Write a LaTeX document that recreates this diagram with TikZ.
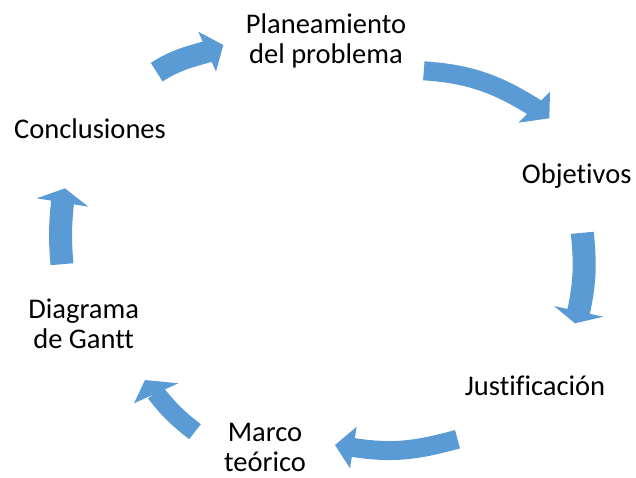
\documentclass[tikz,border=0pt]{standalone}
\usepackage{fontspec}
\setmainfont{Carlito}[Ligatures=NoCommon]
\definecolor{arrowblue}{RGB}{91,155,213}
\begin{document}
\begin{tikzpicture}[x=1pt,y=1pt,
  lbl/.style={inner sep=0pt, align=center, anchor=base, font=\fontsize{28.5}{30}\selectfont},
  shaft/.style={draw=arrowblue, line cap=butt, shorten >=-2pt},
  head/.style={fill=arrowblue}]
\useasboundingbox (0,0) rectangle (636,-477);
% labels (anchor = baseline of the last line)
\node[lbl] (plan) at (326,-63.3) {Planeamiento\\del problema};
\node[lbl] (obj) at (576.7,-183.3) {Objetivos};
\node[lbl] (just) at (535,-395) {Justificación};
\node[lbl] (marco) at (265,-471.7) {Marco\\teórico};
\node[lbl] (gantt) at (83.7,-348.3) {Diagrama\\de Gantt};
\node[lbl] (concl) at (90,-138.3) {Conclusiones};
% arrow 1: Conclusiones -> Planeamiento
\coordinate (t1) at (156.7,-72.2); \coordinate (e1) at (207.2,-51.7);
\draw[shaft, line width=22pt] (t1) to[out=33,in=196] (e1);
\fill[head] (198.3,-31.7) -- (223.3,-45) -- (216,-71.7) -- cycle;
% arrow 2: Planeamiento -> Objetivos
\coordinate (t2) at (423.8,-70.8); \coordinate (e2) at (534.2,-107.2);
\draw[shaft, line width=19pt] (t2) to[out=-4,in=148] (e2);
\fill[head] (550,-91.7) -- (549.3,-118.3) -- (518.3,-122.7) -- cycle;
% arrow 3: Objetivos -> Justificacion
\coordinate (t3) at (582.3,-232.8); \coordinate (e3) at (578.7,-311.3);
\draw[shaft, line width=23pt] (t3) to[out=-84.4,in=77.7] (e3);
\fill[head] (554,-306) -- (575,-323.3) -- (603.3,-316.7) -- cycle;
% arrow 4: Justificacion -> Marco
\coordinate (t4) at (457.5,-439.2); \coordinate (e4) at (353.3,-447.5);
\draw[shaft, line width=19pt] (t4) to[out=195.3,in=350.8] (e4);
\fill[head] (356.7,-426.7) -- (335,-445) -- (350,-468.3) -- cycle;
% arrow 5: Marco -> Gantt
\coordinate (t5) at (195,-431.7); \coordinate (e5) at (156.7,-394.2);
\draw[shaft, line width=19pt] (t5) to[out=142,in=308] (e5);
\fill[head] (134,-403.3) -- (145,-380) -- (178.3,-383.3) -- cycle;
% arrow 6: Gantt -> Conclusiones
\coordinate (t6) at (62,-264.2); \coordinate (e6) at (62.5,-202.5);
\draw[shaft, line width=23pt] (t6) to[out=95,in=264] (e6);
\fill[head] (36.7,-198.3) -- (65,-188.3) -- (88.3,-206.7) -- cycle;
\end{tikzpicture}
\end{document}
